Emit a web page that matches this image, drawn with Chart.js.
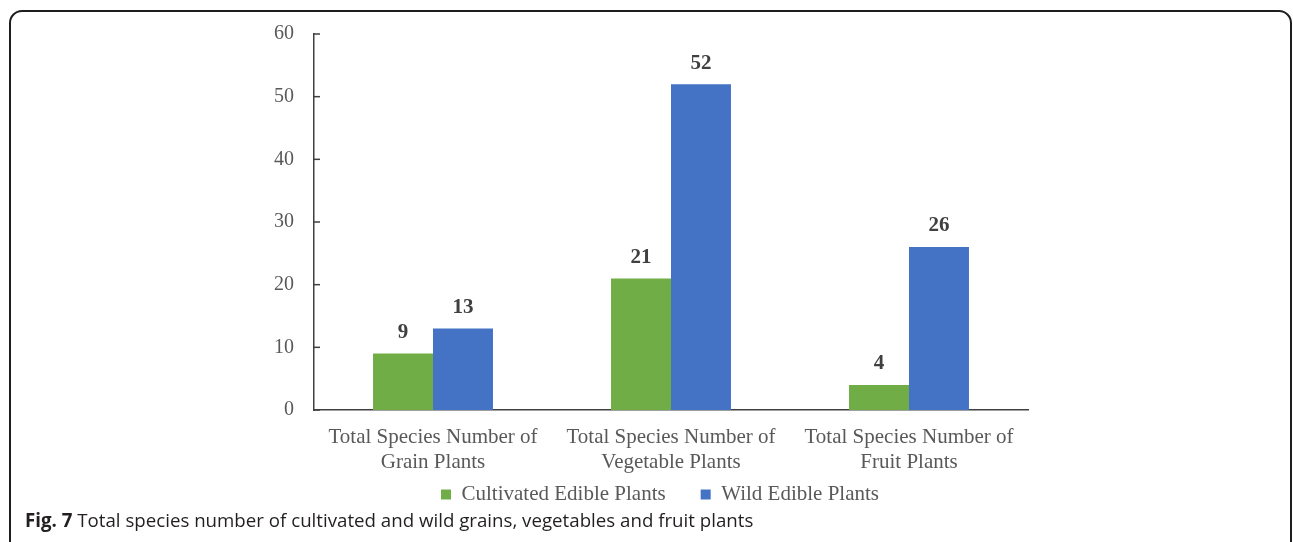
<!DOCTYPE html>
<html>
<head>
<meta charset="utf-8">
<script src="https://cdn.jsdelivr.net/npm/chart.js@4/dist/chart.umd.min.js"></script>
<style>
  html, body { margin: 0; padding: 0; background: #fff; width: 1293px; height: 542px; overflow: hidden; }
  #frame { position: absolute; left: 9px; top: 10px; width: 1283px; height: 620px; box-sizing: border-box;
           border: 2px solid #1e1e1e; border-radius: 13px; }
  #wrap { position: absolute; left: 0; top: 0; width: 1293px; height: 542px; }
  #caption { position: absolute; left: 25px; top: 507px; font-family: "Open Sans", sans-serif; font-size: 18.7px;
             color: #231f20; white-space: nowrap; }
  #caption b { font-weight: 700; }
</style>
</head>
<body>
<div id="frame"></div>
<div id="wrap"><canvas id="chart" width="1293" height="542"></canvas></div>
<div id="caption"><b>Fig. 7</b> Total species number of cultivated and wild grains, vegetables and fruit plants</div>
<script>
// Category labels (two lines each)
const categories = [
  ['Total Species Number of', 'Grain Plants'],
  ['Total Species Number of', 'Vegetable Plants'],
  ['Total Species Number of', 'Fruit Plants']
];
const seriesNames = ['Cultivated Edible Plants', 'Wild Edible Plants'];
const cultivated = [9, 21, 4];
const wild = [13, 52, 26];
const yTicks = [0, 10, 20, 30, 40, 50, 60];

const GREEN = '#70ad47';
const BLUE = '#4472c4';
const TEXT = '#595959';
const AXIS = '#404040';
const SERIF = '"Liberation Serif", "Times New Roman", serif';

// Value labels above each bar
const valueLabels = {
  id: 'valueLabels',
  afterDatasetsDraw(chart) {
    const ctx = chart.ctx;
    ctx.save();
    ctx.font = 'bold 21px ' + SERIF;
    ctx.fillStyle = AXIS;
    ctx.textAlign = 'center';
    ctx.textBaseline = 'middle';
    chart.data.datasets.forEach((ds, i) => {
      chart.getDatasetMeta(i).data.forEach((bar, j) => {
        ctx.fillText(String(ds.data[j]), bar.x, bar.y - 21);
      });
    });
    ctx.restore();
  }
};

// Short tick marks on the value axis, pointing into the plot
const innerTicks = {
  id: 'innerTicks',
  afterDraw(chart) {
    const y = chart.scales.y;
    const left = chart.chartArea.left;
    const ctx = chart.ctx;
    ctx.save();
    ctx.strokeStyle = AXIS;
    ctx.lineWidth = 1.5;
    y.ticks.forEach((t, i) => {
      const py = y.getPixelForTick(i);
      ctx.beginPath();
      ctx.moveTo(left, py);
      ctx.lineTo(left + 6, py);
      ctx.stroke();
    });
    ctx.restore();
  }
};

// Place the legend row just under the category labels, centred on the plot group
const legendPlacement = {
  id: 'legendPlacement',
  afterLayout(chart) {
    const lg = chart.legend;
    const dx = 19, dy = -27;
    lg.left += dx; lg.right += dx;
    lg.top += dy; lg.bottom += dy;
  }
};

new Chart(document.getElementById('chart'), {
  type: 'bar',
  data: {
    labels: categories,
    datasets: [
      { label: seriesNames[0], data: cultivated, backgroundColor: GREEN, borderWidth: 0 },
      { label: seriesNames[1], data: wild, backgroundColor: BLUE, borderWidth: 0 }
    ]
  },
  options: {
    responsive: false,
    animation: false,
    devicePixelRatio: 1,
    datasets: { bar: { barPercentage: 1.0, categoryPercentage: 0.504 } },
    layout: { padding: { left: 254, right: 265, top: 34, bottom: 0 } },
    scales: {
      x: {
        grid: { display: false, drawTicks: false },
        border: { display: true, color: AXIS, width: 1.5 },
        ticks: { color: TEXT, font: { family: SERIF, size: 21, lineHeight: 1.2 }, padding: 15, maxRotation: 0 },
        afterFit(s) { s.height = 66; }
      },
      y: {
        min: yTicks[0],
        max: yTicks[yTicks.length - 1],
        afterBuildTicks(s) { s.ticks = yTicks.map(v => ({ value: v })); },
        grid: { display: false, drawTicks: false },
        border: { display: true, color: AXIS, width: 1.5 },
        ticks: { color: TEXT, font: { family: SERIF, size: 20 }, padding: 20 },
        afterFit(s) { s.width = 60; }
      }
    },
    plugins: {
      legend: {
        position: 'bottom',
        labels: {
          boxWidth: 10, boxHeight: 10, padding: 35,
          color: TEXT, font: { family: SERIF, size: 21 }
        }
      },
      tooltip: { enabled: false }
    }
  },
  plugins: [valueLabels, innerTicks, legendPlacement]
});
</script>
</body>
</html>
